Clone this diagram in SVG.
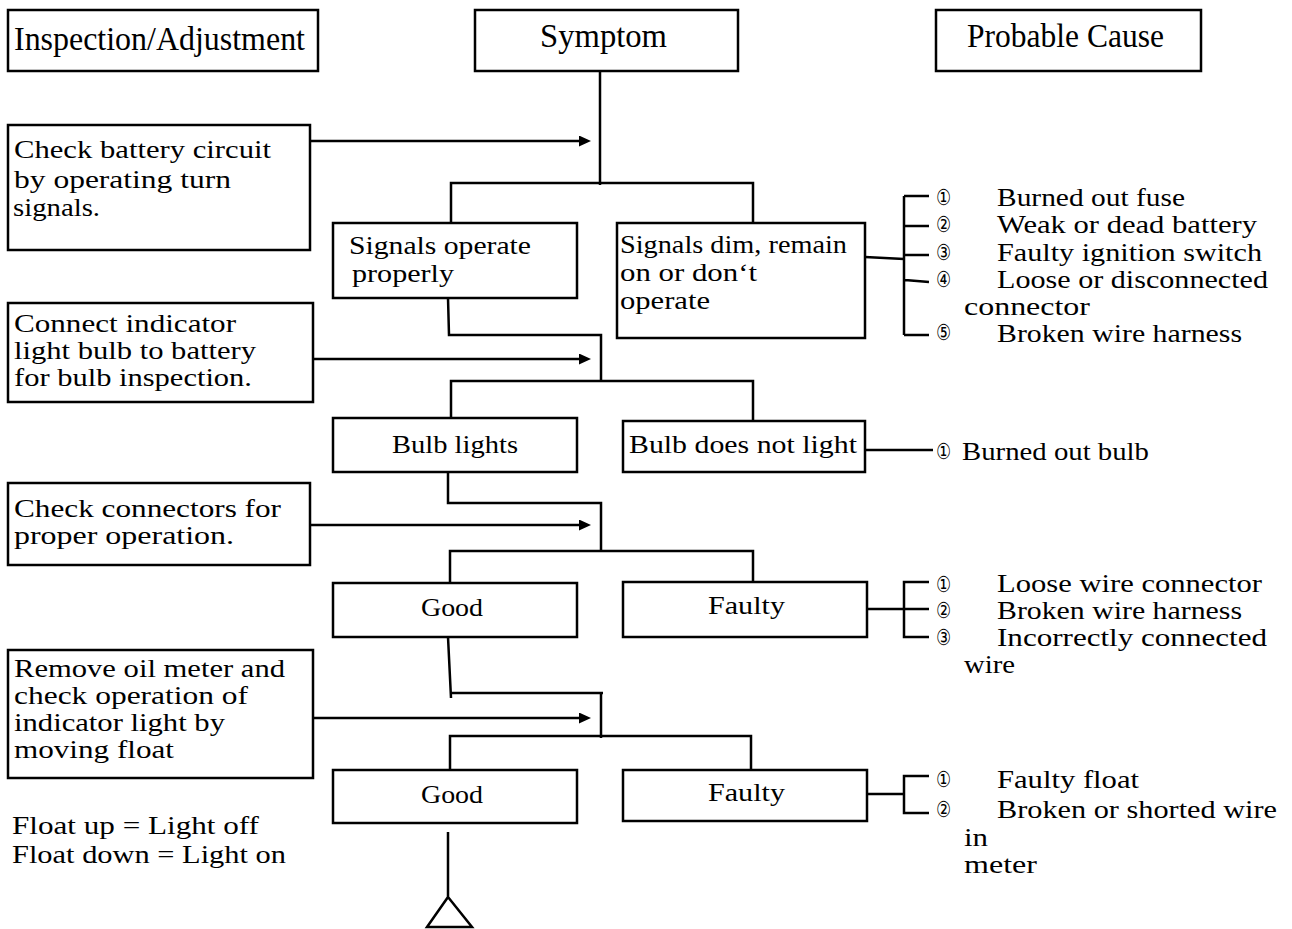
<svg xmlns="http://www.w3.org/2000/svg" width="1292" height="929" viewBox="0 0 1292 929">
<style>
.box{fill:#fff;stroke:#000;stroke-width:2.5}
.ln{fill:none;stroke:#000;stroke-width:2.5}
text{font-family:"Liberation Serif","Times New Roman",serif;font-size:25px;fill:#000}
.h{font-size:33px}
.n{font-family:"DejaVu Sans","Noto Sans CJK JP",sans-serif;font-size:22px}
</style>
<defs>
<marker id="ah" markerUnits="userSpaceOnUse" markerWidth="12" markerHeight="11" refX="1" refY="5.5" orient="auto">
<path d="M0,0 L12,5.5 L0,11 Z" fill="#000"/>
</marker>
</defs>
<rect width="1292" height="929" fill="#fff"/>

<g id="connectors">
<path class="ln" d="M600,71 V185"/>
<path class="ln" d="M451,223 V183 H753 V223"/>
<path class="ln" d="M310,141 H580" marker-end="url(#ah)"/>
<path class="ln" d="M448,298 L449,335 H601 V380"/>
<path class="ln" d="M451,418 V381 H753 V421"/>
<path class="ln" d="M313,359 H580" marker-end="url(#ah)"/>
<path class="ln" d="M448,472 V503 H601 V550"/>
<path class="ln" d="M450,583 V551 H753 V582"/>
<path class="ln" d="M310,525 H580" marker-end="url(#ah)"/>
<path class="ln" d="M448,637 L451,698 M451,693 H603 M601,693 V738"/>
<path class="ln" d="M450,770 V736 H751 V770"/>
<path class="ln" d="M313,718 H580" marker-end="url(#ah)"/>
<path class="ln" d="M448,832 V897 L427,927 H472 L448,897"/>
<path class="ln" d="M865,257 L904,259 M904,196 V335 M904,196 H929 M904,226 H929 M904,255 H929 M905,280 L929,282 M904,335 H929"/>
<path class="ln" d="M865,450 H933"/>
<path class="ln" d="M867,609 H904 M929,582 H904 V637 H929 M904,609 H929"/>
<path class="ln" d="M867,794 H904 M929,776 H904 V813 H929"/>
</g>

<g id="hdr-inspection"><rect class="box" x="8" y="10" width="310" height="61"/><text class="h" x="14" y="50" textLength="291" lengthAdjust="spacingAndGlyphs">Inspection/Adjustment</text></g>
<g id="hdr-symptom"><rect class="box" x="475" y="10" width="263" height="61"/><text class="h" x="540" y="47" textLength="127" lengthAdjust="spacingAndGlyphs">Symptom</text></g>
<g id="hdr-cause"><rect class="box" x="936" y="10" width="265" height="61"/><text class="h" x="967" y="47" textLength="197" lengthAdjust="spacingAndGlyphs">Probable Cause</text></g>

<g id="insp1"><rect class="box" x="8" y="125" width="302" height="125"/>
<text><tspan x="14" y="158" textLength="257" lengthAdjust="spacingAndGlyphs">Check battery circuit</tspan><tspan x="14" y="188" textLength="217" lengthAdjust="spacingAndGlyphs">by operating turn</tspan><tspan x="13" y="216" textLength="87" lengthAdjust="spacingAndGlyphs">signals.</tspan></text></g>

<g id="sym-ok1"><rect class="box" x="333" y="223" width="244" height="75"/>
<text><tspan x="349" y="254" textLength="182" lengthAdjust="spacingAndGlyphs">Signals operate</tspan><tspan x="352" y="282" textLength="102" lengthAdjust="spacingAndGlyphs">properly</tspan></text></g>

<g id="sym-bad1"><rect class="box" x="617" y="223" width="248" height="115"/>
<text><tspan x="620" y="253" textLength="227" lengthAdjust="spacingAndGlyphs">Signals dim, remain</tspan><tspan x="620" y="281" textLength="137" lengthAdjust="spacingAndGlyphs">on or don‘t</tspan><tspan x="620" y="309" textLength="90" lengthAdjust="spacingAndGlyphs">operate</tspan></text></g>

<g id="cause1">
<text><tspan class="n" x="936" y="205" textLength="15" lengthAdjust="spacingAndGlyphs">①</tspan><tspan x="997" y="206" textLength="188" lengthAdjust="spacingAndGlyphs">Burned out fuse</tspan><tspan class="n" x="936" y="232" textLength="15" lengthAdjust="spacingAndGlyphs">②</tspan><tspan x="997" y="233" textLength="260" lengthAdjust="spacingAndGlyphs">Weak or dead battery</tspan><tspan class="n" x="936" y="260" textLength="15" lengthAdjust="spacingAndGlyphs">③</tspan><tspan x="997" y="261" textLength="265" lengthAdjust="spacingAndGlyphs">Faulty ignition switch</tspan><tspan class="n" x="936" y="287" textLength="15" lengthAdjust="spacingAndGlyphs">④</tspan><tspan x="997" y="288" textLength="271" lengthAdjust="spacingAndGlyphs">Loose or disconnected</tspan><tspan x="964" y="315" textLength="126" lengthAdjust="spacingAndGlyphs">connector</tspan><tspan class="n" x="936" y="340" textLength="15" lengthAdjust="spacingAndGlyphs">⑤</tspan><tspan x="997" y="342" textLength="245" lengthAdjust="spacingAndGlyphs">Broken wire harness</tspan></text>
</g>

<g id="insp2"><rect class="box" x="8" y="303" width="305" height="99"/>
<text><tspan x="14" y="332" textLength="222" lengthAdjust="spacingAndGlyphs">Connect indicator</tspan><tspan x="14" y="359" textLength="242" lengthAdjust="spacingAndGlyphs">light bulb to battery</tspan><tspan x="14" y="386" textLength="238" lengthAdjust="spacingAndGlyphs">for bulb inspection.</tspan></text></g>

<g id="sym-ok2"><rect class="box" x="333" y="418" width="244" height="54"/>
<text x="392" y="453" textLength="126" lengthAdjust="spacingAndGlyphs">Bulb lights</text></g>

<g id="sym-bad2"><rect class="box" x="623" y="421" width="242" height="51"/>
<text x="629" y="453" textLength="228" lengthAdjust="spacingAndGlyphs">Bulb does not light</text></g>

<g id="cause2">
<text><tspan class="n" x="936" y="459" textLength="15" lengthAdjust="spacingAndGlyphs">①</tspan><tspan x="962" y="460" textLength="187" lengthAdjust="spacingAndGlyphs">Burned out bulb</tspan></text>
</g>

<g id="insp3"><rect class="box" x="8" y="483" width="302" height="82"/>
<text><tspan x="14" y="517" textLength="267" lengthAdjust="spacingAndGlyphs">Check connectors for</tspan><tspan x="14" y="544" textLength="220" lengthAdjust="spacingAndGlyphs">proper operation.</tspan></text></g>

<g id="sym-ok3"><rect class="box" x="333" y="583" width="244" height="54"/>
<text x="421" y="616" textLength="62" lengthAdjust="spacingAndGlyphs">Good</text></g>

<g id="sym-bad3"><rect class="box" x="623" y="582" width="244" height="55"/>
<text x="708" y="614" textLength="77" lengthAdjust="spacingAndGlyphs">Faulty</text></g>

<g id="cause3">
<text><tspan class="n" x="936" y="592" textLength="15" lengthAdjust="spacingAndGlyphs">①</tspan><tspan x="997" y="592" textLength="265" lengthAdjust="spacingAndGlyphs">Loose wire connector</tspan><tspan class="n" x="936" y="618" textLength="15" lengthAdjust="spacingAndGlyphs">②</tspan><tspan x="997" y="619" textLength="245" lengthAdjust="spacingAndGlyphs">Broken wire harness</tspan><tspan class="n" x="936" y="645" textLength="15" lengthAdjust="spacingAndGlyphs">③</tspan><tspan x="997" y="646" textLength="270" lengthAdjust="spacingAndGlyphs">Incorrectly connected</tspan><tspan x="964" y="673" textLength="51" lengthAdjust="spacingAndGlyphs">wire</tspan></text>
</g>

<g id="insp4"><rect class="box" x="8" y="650" width="305" height="128"/>
<text><tspan x="14" y="677" textLength="271" lengthAdjust="spacingAndGlyphs">Remove oil meter and</tspan><tspan x="14" y="704" textLength="234" lengthAdjust="spacingAndGlyphs">check operation of</tspan><tspan x="14" y="731" textLength="211" lengthAdjust="spacingAndGlyphs">indicator light by</tspan><tspan x="14" y="758" textLength="160" lengthAdjust="spacingAndGlyphs">moving float</tspan></text></g>

<g id="sym-ok4"><rect class="box" x="333" y="770" width="244" height="53"/>
<text x="421" y="803" textLength="62" lengthAdjust="spacingAndGlyphs">Good</text></g>

<g id="sym-bad4"><rect class="box" x="623" y="770" width="244" height="51"/>
<text x="708" y="801" textLength="77" lengthAdjust="spacingAndGlyphs">Faulty</text></g>

<g id="cause4">
<text><tspan class="n" x="936" y="787" textLength="15" lengthAdjust="spacingAndGlyphs">①</tspan><tspan x="997" y="788" textLength="142" lengthAdjust="spacingAndGlyphs">Faulty float</tspan><tspan class="n" x="936" y="817" textLength="15" lengthAdjust="spacingAndGlyphs">②</tspan><tspan x="997" y="818" textLength="280" lengthAdjust="spacingAndGlyphs">Broken or shorted wire</tspan><tspan x="964" y="846" textLength="24" lengthAdjust="spacingAndGlyphs">in</tspan><tspan x="964" y="873" textLength="73" lengthAdjust="spacingAndGlyphs">meter</tspan></text>
</g>

<g id="note">
<text><tspan x="12" y="834" textLength="247" lengthAdjust="spacingAndGlyphs">Float up = Light off</tspan><tspan x="12" y="863" textLength="274" lengthAdjust="spacingAndGlyphs">Float down = Light on</tspan></text>
</g>
</svg>
